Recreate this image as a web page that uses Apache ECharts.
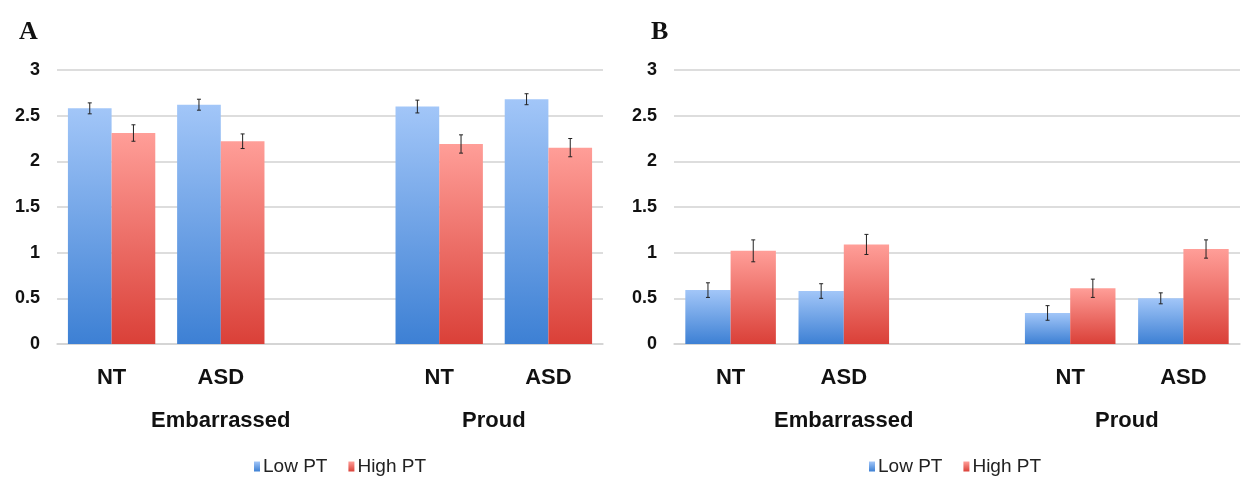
<!DOCTYPE html>
<html>
<head>
<meta charset="utf-8">
<script src="https://cdn.jsdelivr.net/npm/echarts@6/dist/echarts.min.js"></script>
<style>
  html, body { margin: 0; padding: 0; background: #fff; }
  #chart { width: 1243px; height: 478px; }
</style>
</head>
<body>
<div id="chart"></div>
<script>
// data
const categories = ['NT', 'ASD', '', 'NT', 'ASD'];
const groupLabels = {1.5: 'Embarrassed', 4: 'Proud'};
const seriesNames = ['Low PT', 'High PT'];
const yTicks = [0, 0.5, 1, 1.5, 2, 2.5, 3];

const lowA = [2.58, 2.62, null, 2.60, 2.68];
const highA = [2.31, 2.22, null, 2.19, 2.15];
const lowAErr = [0.06, 0.06, null, 0.07, 0.06];
const highAErr = [0.09, 0.08, null, 0.10, 0.10];

const lowB = [0.59, 0.58, null, 0.34, 0.50];
const highB = [1.02, 1.09, null, 0.61, 1.04];
const lowBErr = [0.08, 0.08, null, 0.08, 0.06];
const highBErr = [0.12, 0.11, null, 0.10, 0.10];

const sans = '"Liberation Sans", Arial, sans-serif';
const catGap = 0.2;

const blueFill = new echarts.graphic.LinearGradient(0, 0, 0, 1, [
  {offset: 0, color: '#a2c6f8'},
  {offset: 1, color: '#3d80d4'}
]);
const redFill = new echarts.graphic.LinearGradient(0, 0, 0, 1, [
  {offset: 0, color: '#ff9e98'},
  {offset: 1, color: '#da4038'}
]);

function errData(vals, errs) {
  const out = [];
  vals.forEach((v, i) => {
    if (v == null) return;
    out.push([i, v - errs[i], v + errs[i]]);
  });
  return out;
}

// side: -1 left bar of the pair, +1 right bar
function errRenderer(side) {
  return function (params, api) {
    const ci = api.value(0);
    const lo = api.coord([ci, api.value(1)]);
    const hi = api.coord([ci, api.value(2)]);
    const barW = api.size([1, 0])[0] * (1 - catGap) / 2;
    const x = lo[0] + side * barW / 2;
    const style = {stroke: '#222', lineWidth: 1};
    return {
      type: 'group',
      children: [
        {type: 'line', shape: {x1: x, y1: lo[1], x2: x, y2: hi[1]}, style},
        {type: 'line', shape: {x1: x - 2, y1: lo[1], x2: x + 2, y2: lo[1]}, style},
        {type: 'line', shape: {x1: x - 2, y1: hi[1], x2: x + 2, y2: hi[1]}, style}
      ]
    };
  };
}

function panelAxes(gridIndex) {
  return [
    {
      type: 'category', gridIndex, data: categories,
      axisLine: {show: true, lineStyle: {color: '#d2d2d2', width: 1.5}},
      axisTick: {show: false},
      axisLabel: {margin: 23, fontFamily: sans, fontWeight: 'bold', fontSize: 22, color: '#111'}
    },
    {
      type: 'value', gridIndex, min: 0, max: 5, interval: 0.5, position: 'bottom',
      axisLine: {show: false}, axisTick: {show: false}, splitLine: {show: false},
      axisLabel: {
        margin: 66, fontFamily: sans, fontWeight: 'bold', fontSize: 22, color: '#111',
        showMinLabel: true, showMaxLabel: true,
        formatter: v => groupLabels[v] || ''
      }
    }
  ];
}

function yAxis(gridIndex) {
  return {
    type: 'value', gridIndex, min: 0, max: 3, interval: 0.5,
    axisLine: {show: false}, axisTick: {show: false},
    splitLine: {lineStyle: {color: '#d2d2d2', width: 1.5}},
    axisLabel: {
      margin: 17, fontFamily: sans, fontWeight: 'bold', fontSize: 18, color: '#111',
      formatter: v => yTicks.includes(v) ? String(v) : ''
    }
  };
}

function barSeries(name, data, xi, yi, fill) {
  return {
    type: 'bar', name, data, xAxisIndex: xi, yAxisIndex: yi,
    barGap: '0%', barCategoryGap: (catGap * 100) + '%',
    itemStyle: {color: fill}, z: 2
  };
}

function errSeries(vals, errs, side, xi, yi) {
  return {
    type: 'custom', data: errData(vals, errs), xAxisIndex: xi, yAxisIndex: yi,
    encode: {x: 0, y: [1, 2]}, renderItem: errRenderer(side), z: 5, silent: true
  };
}

function legend(left) {
  return {
    data: seriesNames, left, top: 452, itemWidth: 6, itemHeight: 10, itemGap: 21,
    icon: 'rect',
    textStyle: {fontFamily: sans, fontSize: 19, color: '#222', padding: [0, 0, 0, -2]}
  };
}

const chart = echarts.init(document.getElementById('chart'), null, {renderer: 'canvas'});
chart.setOption({
  animation: false,
  color: ['#5b97e4', '#ee6a62'],
  title: [
    {text: 'A', left: 14, top: 14, textStyle: {fontFamily: '"Liberation Serif", serif', fontWeight: 'bold', fontSize: 26, color: '#111'}},
    {text: 'B', left: 646, top: 14, textStyle: {fontFamily: '"Liberation Serif", serif', fontWeight: 'bold', fontSize: 26, color: '#111'}}
  ],
  legend: [legend(249), legend(864)],
  grid: [
    {left: 57, top: 70, width: 546, height: 274},
    {left: 674, top: 70, width: 569, height: 274}
  ],
  xAxis: panelAxes(0).concat(panelAxes(1)),
  yAxis: [yAxis(0), yAxis(1)],
  series: [
    barSeries('Low PT', lowA, 0, 0, blueFill),
    barSeries('High PT', highA, 0, 0, redFill),
    barSeries('Low PT', lowB, 2, 1, blueFill),
    barSeries('High PT', highB, 2, 1, redFill),
    errSeries(lowA, lowAErr, -1, 0, 0),
    errSeries(highA, highAErr, 1, 0, 0),
    errSeries(lowB, lowBErr, -1, 2, 1),
    errSeries(highB, highBErr, 1, 2, 1)
  ]
});
</script>
</body>
</html>
